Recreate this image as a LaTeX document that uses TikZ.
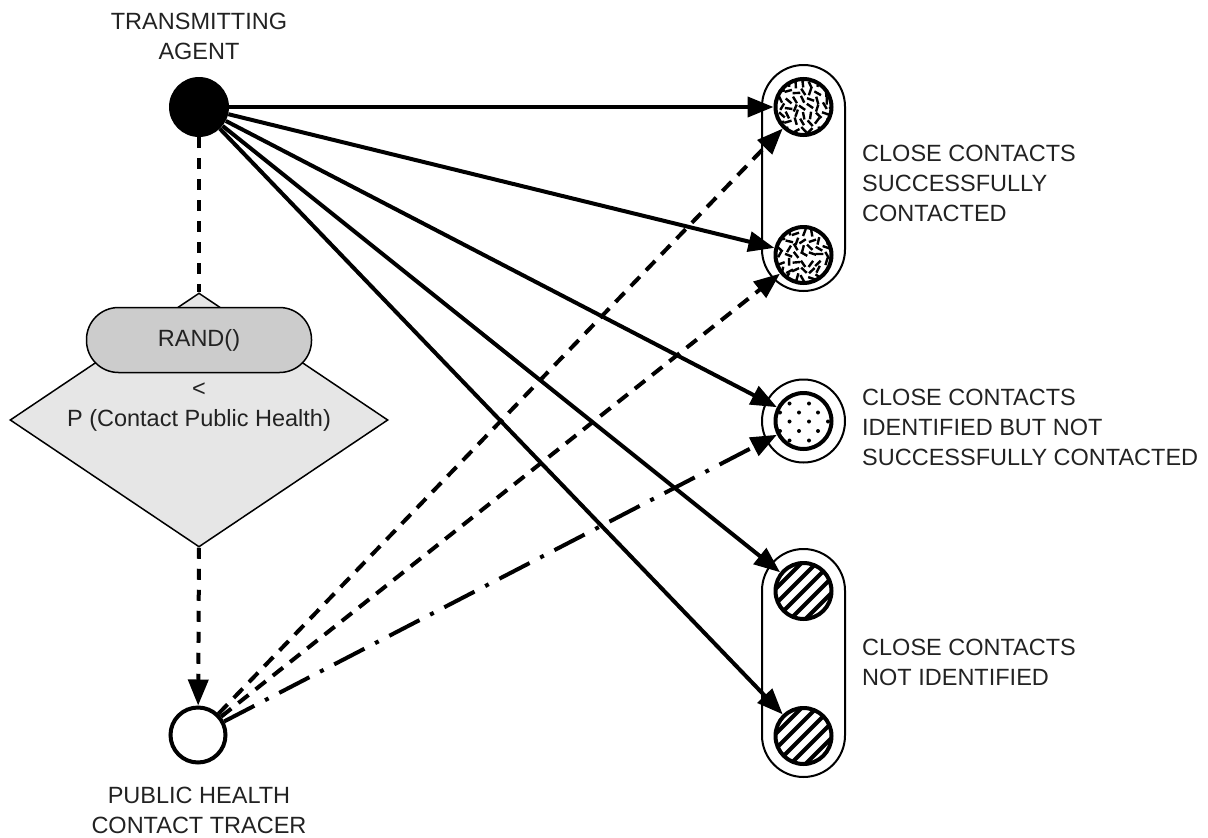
\documentclass[tikz,border=0pt]{standalone}
\usepackage{fontspec}
\setmainfont{Liberation Sans}
\usetikzlibrary{arrows.meta,shapes.geometric}

\definecolor{txt}{HTML}{222222}
\definecolor{diamfill}{HTML}{E6E6E6}
\definecolor{randfill}{HTML}{CCCCCC}

% short random strokes inside a disc
\newcommand{\speckledisc}[2]{%
  \begin{scope}
    \clip (#1,#2) circle (27pt);
    \foreach \i in {-4,...,4}{
      \foreach \j in {-4,...,4}{
        \pgfmathsetmacro{\ang}{rnd*180}
        \pgfmathsetmacro{\px}{#1+\i*7.5+rnd*3-1.5}
        \pgfmathsetmacro{\py}{#2+\j*7.5+rnd*3-1.5}
        \draw[line width=2.4pt] ([shift={(\ang:3.8)}]\px,\py) -- ([shift={(\ang+180:3.8)}]\px,\py);
      }
    }
  \end{scope}}

% diagonal stripes inside a disc
\newcommand{\hatchdisc}[2]{%
  \begin{scope}
    \clip (#1,#2) circle (27pt);
    \foreach \k in {-5,...,5}{
      \draw[line width=4pt] (#1+\k*15-40,#2+40) -- (#1+\k*15+40,#2-40);
    }
  \end{scope}}

\begin{document}
\begin{tikzpicture}[x=1pt,y=-1pt,
  lbl/.style={font=\fontsize{23.5}{30}\selectfont, text=txt, align=center, inner sep=0pt},
  rlbl/.style={lbl, align=left, anchor=west},
  contact/.style={circle, draw, line width=4pt, minimum size=56pt, inner sep=0pt},
  group/.style={draw, line width=2pt},
  arr/.style={line width=4pt, -{Triangle[length=26pt,width=20pt]}},
  shortdash/.style={dash pattern=on 13pt off 9pt},
  stemdash/.style={dash pattern=on 11pt off 10pt},
  dashdot/.style={dash pattern=on 34pt off 12pt on 4pt off 12pt}
]
\useasboundingbox (0,0) rectangle (1208,838);
\pgfmathsetseed{4217}

% source and tracer
\node[circle, fill=black, minimum size=60pt, inner sep=0pt] (agent) at (199,107) {};
\node[circle, draw, line width=4pt, fill=white, minimum size=55pt, inner sep=0pt] (tracer) at (198,735) {};
\node[lbl] (agentlbl) at (199,36) {TRANSMITTING\\AGENT};
\node[lbl] (tracerlbl) at (199,810) {PUBLIC HEALTH\\CONTACT TRACER};

% decision
\node[diamond, draw, line width=1.5pt, fill=diamfill, minimum width=378pt, minimum height=254pt, inner sep=0pt] (dec) at (199,420) {};
\node[draw, line width=1.5pt, fill=randfill, rounded corners=32pt, minimum width=225pt, minimum height=65pt, lbl] (rand) at (199,340) {RAND()};
\node[lbl] (lt) at (199,390) {<};
\node[lbl] (prob) at (199,420) {P (Contact Public Health)};

% contact groups
\draw[group, rounded corners=41.5pt] (762,65) rectangle (845,291);
\draw[group] (803.5,421) circle (41.5pt);
\draw[group, rounded corners=41.5pt] (762,549) rectangle (845,777);

% fills of the contacts
\speckledisc{803.5}{107}
\speckledisc{803.5}{255}
\foreach \dx/\dy in {-14/-17.5, 5.5/-17.5,
                     -23.5/-8.5, -4.5/-8.5, 14.5/-8.5,
                     -14/0.5, 5.5/0.5, 24.5/0.5,
                     -23.5/10, -4.5/10, 14.5/10,
                     -14/19.5, 5.5/19.5}
  \fill (803.5+\dx,421+\dy) circle (2pt);
\hatchdisc{803.5}{591}
\hatchdisc{803.5}{736}

\node[contact] (c1) at (803.5,107) {};
\node[contact] (c2) at (803.5,255) {};
\node[contact] (c3) at (803.5,421) {};
\node[contact] (c4) at (803.5,591) {};
\node[contact] (c5) at (803.5,736) {};

% labels of the groups
\node[rlbl] (g1) at (862,183) {CLOSE CONTACTS\\SUCCESSFULLY\\CONTACTED};
\node[rlbl] (g2) at (862,427) {CLOSE CONTACTS\\IDENTIFIED BUT NOT\\SUCCESSFULLY CONTACTED};
\node[rlbl] (g3) at (862,662) {CLOSE CONTACTS\\NOT IDENTIFIED};

% decision flow
\draw[line width=4pt, stemdash] (agent) -- (dec.north);
\draw[arr, stemdash] (dec.south) -- (tracer);

% transmission
\draw[arr] (agent) -- (c1);
\draw[arr] (agent) -- (c2);
\draw[arr] (agent) -- (c3);
\draw[arr] (agent) -- (c4);
\draw[arr] (agent) -- (c5);

% tracing
\draw[arr, shortdash] (tracer) -- (c1);
\draw[arr, shortdash] (tracer) -- (c2);
\draw[arr, dashdot] (tracer) -- (c3);
\end{tikzpicture}
\end{document}
